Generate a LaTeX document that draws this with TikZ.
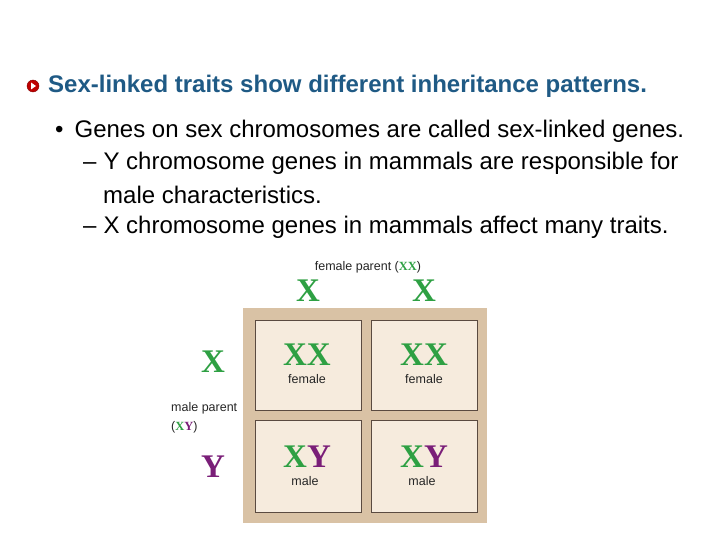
\documentclass[tikz,border=0pt]{standalone}
\usepackage{fontspec}
\setmainfont{Liberation Sans}
\newfontfamily\serifb{Liberation Serif}
\definecolor{ttl}{HTML}{1F5A85}
\definecolor{gx}{HTML}{2EA043}
\definecolor{py}{HTML}{7A1E78}
\definecolor{frameC}{HTML}{D9C2A5}
\definecolor{cellC}{HTML}{F6EBDD}
\definecolor{cellE}{HTML}{5A4A40}
\begin{document}
\begin{tikzpicture}[x=1pt,y=-1pt,
  body/.style={anchor=west,inner sep=0,font=\fontsize{24}{26}\selectfont},
  cell/.style={draw=cellE,fill=cellC,line width=0.6pt},
  big/.style={inner sep=0,font=\serifb\bfseries\fontsize{33}{33}\selectfont},
  lab/.style={inner sep=0,font=\fontsize{12.5}{14}\selectfont,text=black!85}]
\useasboundingbox (0,0) rectangle (720,540);
\fill[white] (0,0) rectangle (720,540);
\node[circle,fill=red!75!black,draw=red!50!black,minimum size=12pt,inner sep=0] (b) at (33,86) {};
\fill[white] (31,82.5) -- (36,86) -- (31,89.5) -- cycle;
\node[body,text=ttl,font=\bfseries\fontsize{24}{26}\selectfont] (t) at (48,86) {Sex-linked traits show different inheritance patterns.};
\node[body] (l1) at (55,131) {•\hspace{11pt}Genes on sex chromosomes are called sex-linked genes.};
\node[body] (l2) at (83,163) {–\hspace{7pt}Y chromosome genes in mammals are responsible for};
\node[body] (l3) at (103,195) {male characteristics.};
\node[body] (l4) at (83,227) {–\hspace{7pt}X chromosome genes in mammals affect many traits.};
\fill[frameC] (243,308) rectangle (487,523);
\draw[cell] (255,320) rectangle (361,410);
\draw[cell] (371,320) rectangle (477,410);
\draw[cell] (255,420) rectangle (361,512);
\draw[cell] (371,420) rectangle (477,512);
\node[lab] (fp) at (368,267) {female parent (\textcolor{gx}{\serifb\bfseries XX})};
\node[big,text=gx] (c1) at (308,291) {X};
\node[big,text=gx] (c2) at (424,291) {X};
\node[big,text=gx] (r1) at (213,362) {X};
\node[big,text=py] (r2) at (213,467) {Y};
\node[lab,anchor=west] (mp) at (171,408) {male parent};
\node[lab,anchor=west] (mq) at (171,427) {(\textcolor{gx}{\serifb\bfseries X}\textcolor{py}{\serifb\bfseries Y})};
\node[big,text=gx] (a1) at (307,355) {XX};
\node[lab] (a2) at (307,379) {female};
\node[big,text=gx] (b1) at (424,355) {XX};
\node[lab] (b2) at (424,379) {female};
\node[big] (c3) at (307,457) {\textcolor{gx}{X}\textcolor{py}{Y}};
\node[lab] (c4) at (305,481) {male};
\node[big] (d1) at (424,457) {\textcolor{gx}{X}\textcolor{py}{Y}};
\node[lab] (d2) at (422,481) {male};
\end{tikzpicture}
\end{document}
